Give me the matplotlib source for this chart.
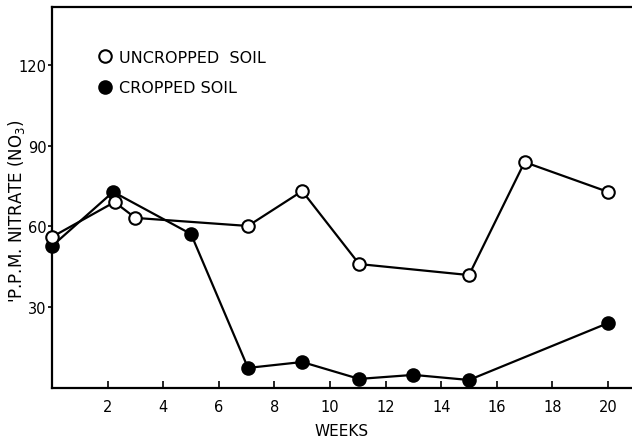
import matplotlib
matplotlib.use("Agg")
import matplotlib.pyplot as plt
from matplotlib.lines import Line2D

weeks_uncropped = [0, 2.25, 3.0, 7.05, 9.0, 11.05, 15.0, 17.0, 20.0]
nitrate_uncropped = [56.1, 69.1, 63.2, 60.2, 73.2, 46.0, 41.9, 84.0, 72.9]
weeks_cropped = [0, 2.2, 5.0, 7.05, 9.0, 11.05, 13.0, 15.0, 20.0]
nitrate_cropped = [52.7, 72.9, 57.2, 7.3, 9.5, 3.2, 4.7, 2.8, 24.0]
x_ticks = [2, 4, 6, 8, 10, 12, 14, 16, 18, 20]
y_ticks = [30, 60, 90, 120]
legend_labels = ["UNCROPPED  SOIL", "CROPPED SOIL"]

plt.rcParams['font.family'] = ['DejaVu Sans']

fig = plt.figure(figsize=(6.32, 4.39), dpi=100)
ax = fig.add_axes([52/632, 50.5/439, 597.7/632, 380.5/439])

ax.plot(weeks_uncropped, nitrate_uncropped, color='black', lw=1.6,
        marker='o', ms=9, mfc='white', mec='black', mew=1.5, zorder=3, clip_on=False)
ax.plot(weeks_cropped, nitrate_cropped, color='black', lw=1.6,
        marker='o', ms=9, mfc='black', mec='black', mew=1.5, zorder=2, clip_on=False)

ax.set_xlim(0, 21.5)
ax.set_ylim(0, 141.8)
ax.set_xticks(x_ticks)
ax.set_yticks(y_ticks)
ax.tick_params(axis='x', direction='in', length=5, width=1.2, labelsize=10.5, pad=8)
ax.tick_params(axis='y', direction='out', length=3, width=1.2, labelsize=10.5, pad=1)

for s in ax.spines.values():
    s.set_linewidth(1.6)
ax.spines['right'].set_visible(False)

ax.set_xlabel("WEEKS", fontsize=11)
ax.xaxis.set_label_coords((342-52)/597.7, -(424-388.5)/380.5)
ax.set_ylabel("'P.P.M. NITRATE (NO$_3$)", fontsize=12)
ax.yaxis.set_label_coords(-(52-27)/597.7, (388.5-211)/380.5)

handles = [Line2D([], [], ls='none', marker='o', ms=9, mfc='white', mec='black', mew=1.5),
           Line2D([], [], ls='none', marker='o', ms=9, mfc='black', mec='black', mew=1.5)]
ax.legend(handles, legend_labels, loc='upper left',
          bbox_to_anchor=((97-52)/597.7, (388.5-51)/380.5),
          frameon=False, borderpad=0, borderaxespad=0, handlelength=1.0,
          handletextpad=0.4, labelspacing=0.95, fontsize=11.5)

fig.savefig("out.png", dpi=100)
